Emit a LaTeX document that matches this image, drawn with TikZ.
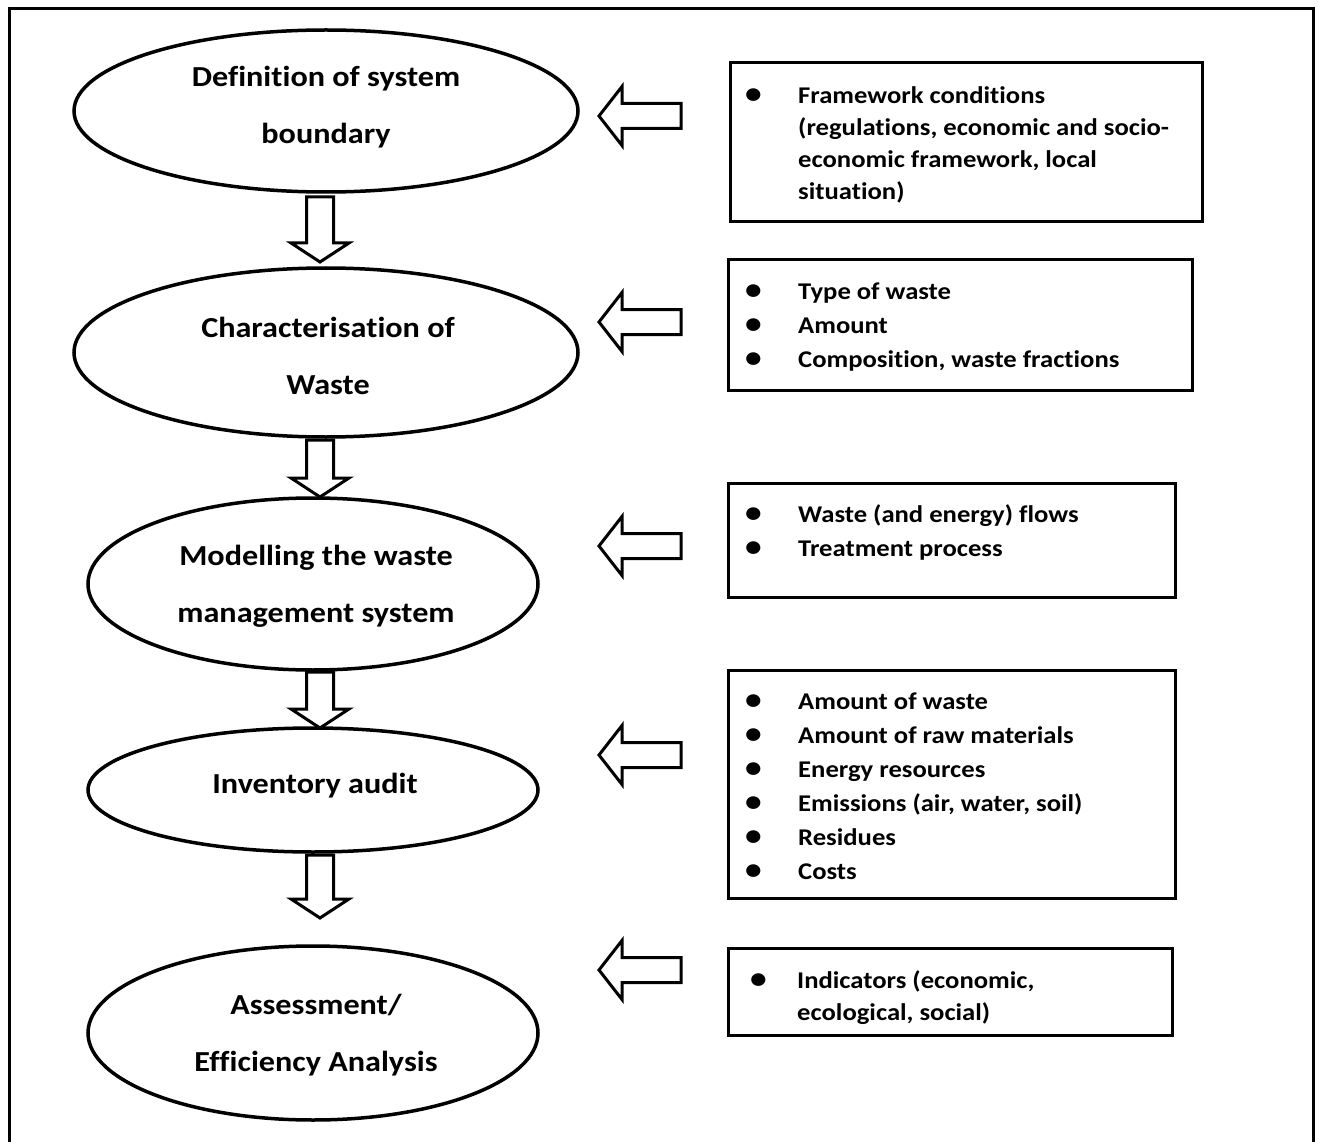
\documentclass[tikz,border=0pt]{standalone}
\usepackage{fontspec}
\setmainfont{Carlito}[FakeStretch=1.11, Ligatures=NoCommon]
\usetikzlibrary{shapes.geometric}

% hollow block arrow pointing down: centre x, top y, tip y
\newcommand\blockdown[3]{%
  \draw[blk] (#1-13.5,#2) -- (#1+13.5,#2) -- (#1+13.5,#3-19) -- (#1+29,#3-19)
    -- (#1,#3) -- (#1-29,#3-19) -- (#1-13.5,#3-19) -- cycle;}
% hollow block arrow pointing left: tip x, centre y, tail x
\newcommand\blockleft[3]{%
  \draw[blk] (#1,#2) -- (#1+23,#2-29.5) -- (#1+23,#2-12.5) -- (#3,#2-12.5)
    -- (#3,#2+12.5) -- (#1+23,#2+12.5) -- (#1+23,#2+29.5) -- cycle;}
% list bullet
\newcommand\bul{\scalebox{1.25}{\textbullet}}

\begin{document}
\begin{tikzpicture}[x=1pt,y=-1pt,
  stage/.style={draw, ellipse, line width=3.5pt, inner sep=0pt, outer sep=0pt},
  stagetext/.style={font=\fontsize{29}{57}\selectfont\bfseries, align=center, inner sep=0pt},
  infobox/.style={draw, line width=3pt, inner sep=0pt, outer sep=0pt},
  infotext/.style={anchor=north west, inner sep=0pt},
  blk/.style={draw, line width=3pt, line join=miter, fill=white}]

\useasboundingbox (0,0) rectangle (1318,1142);

% outer frame, open at the bottom
\draw[line width=3pt] (9,1142) -- (9,9) -- (1313,9) -- (1313,1142);

% process stages
\node[stage, minimum width=504pt, minimum height=162pt] (e1) at (326,111) {};
\node[stage, minimum width=504pt, minimum height=169pt] (e2) at (326,352.5) {};
\node[stage, minimum width=450pt, minimum height=172pt] (e3) at (313,584) {};
\node[stage, minimum width=450pt, minimum height=124pt] (e4) at (313,790) {};
\node[stage, minimum width=450pt, minimum height=174pt] (e5) at (313,1033) {};

\node[stagetext] (t1) at (326,107.5) {Definition of system\\boundary};
\node[stagetext] (t2) at (328,356) {Characterisation of\\Waste};
\node[stagetext] (t3) at (316,586.5) {Modelling the waste\\management system};
\node[stagetext] (t4) at (315,786) {Inventory audit};
\node[stagetext] (t5) at (316,1035.5) {Assessment/\\Efficiency Analysis};

% downward flow between stages
\blockdown{320}{197}{262}
\blockdown{320}{440}{497}
\blockdown{320}{672}{728}
\blockdown{320}{855}{918}

% inputs feeding each stage
\blockleft{599}{116}{681}
\blockleft{599}{322}{681}
\blockleft{599}{546}{681}
\blockleft{599}{755}{681}
\blockleft{599}{970}{681}

% input boxes
\node[infobox, minimum width=472pt, minimum height=159pt] (b1) at (966,142.5) {};
\node[infobox, minimum width=464pt, minimum height=130pt] (b2) at (960,325) {};
\node[infobox, minimum width=447pt, minimum height=114pt] (b3) at (951.5,540) {};
\node[infobox, minimum width=447pt, minimum height=228pt] (b4) at (951.5,784) {};
\node[infobox, minimum width=444pt, minimum height=87pt] (b5) at (950,991.5) {};

\node[infotext, font=\fontsize{24}{32}\selectfont\bfseries] (l1) at (745,80.6) {%
  \begin{tabular}{@{}p{53pt}@{}l@{}}
  \bul & Framework conditions\\
  & (regulations, economic and socio-\\
  & economic framework, local\\
  & situation)
  \end{tabular}};
\node[infotext, font=\fontsize{24}{34}\selectfont\bfseries] (l2) at (745,275.2) {%
  \begin{tabular}{@{}p{53pt}@{}l@{}}
  \bul & Type of waste\\
  \bul & Amount\\
  \bul & Composition, waste fractions
  \end{tabular}};
\node[infotext, font=\fontsize{24}{34}\selectfont\bfseries] (l3) at (745,498) {%
  \begin{tabular}{@{}p{53pt}@{}l@{}}
  \bul & Waste (and energy) flows\\
  \bul & Treatment process
  \end{tabular}};
\node[infotext, font=\fontsize{24}{34}\selectfont\bfseries] (l4) at (745,685) {%
  \begin{tabular}{@{}p{53pt}@{}l@{}}
  \bul & Amount of waste\\
  \bul & Amount of raw materials\\
  \bul & Energy resources\\
  \bul & Emissions (air, water, soil)\\
  \bul & Residues\\
  \bul & Costs
  \end{tabular}};
\node[infotext, font=\fontsize{24}{32}\selectfont\bfseries] (l5) at (750,965.6) {%
  \begin{tabular}{@{}p{47pt}@{}l@{}}
  \bul & Indicators (economic,\\
  & ecological, social)
  \end{tabular}};

\end{tikzpicture}
\end{document}
